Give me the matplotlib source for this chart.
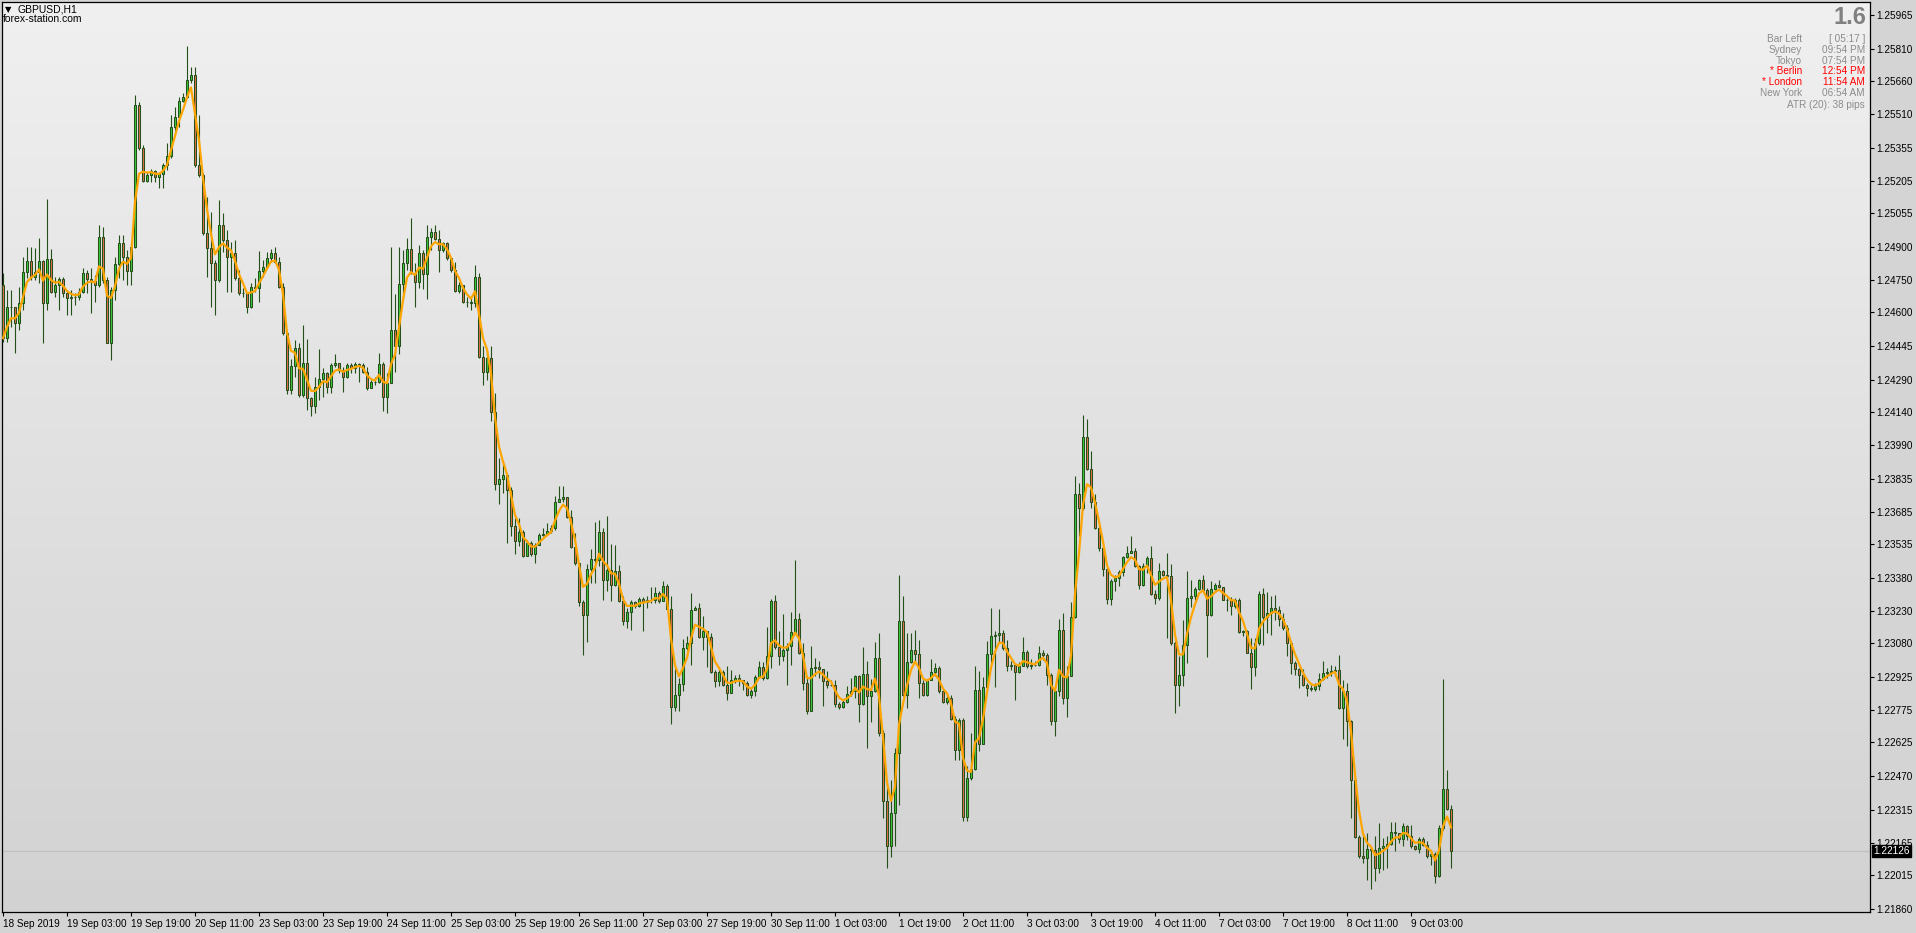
import numpy as np
import matplotlib.pyplot as plt
from matplotlib.colors import LinearSegmentedColormap

plt.rcParams['font.family'] = ['Liberation Sans', 'DejaVu Sans']

first_open = 1.24726

closes = [
    1.24481, 1.24623, 1.24623, 1.24553, 1.24644, 1.24784, 1.24834, 1.24761, 1.24787, 1.24834,
    1.24644, 1.24846, 1.24693, 1.24724, 1.24752, 1.24687, 1.24664, 1.24672, 1.24672, 1.24693,
    1.24779, 1.24752, 1.24744, 1.24726, 1.24944, 1.24748, 1.24461, 1.24703, 1.24820, 1.24917,
    1.24856, 1.24791, 1.24901, 1.25552, 1.25353, 1.25204, 1.25230, 1.25250, 1.25223, 1.25235,
    1.25276, 1.25318, 1.25452, 1.25495, 1.25572, 1.25590, 1.25666, 1.25689, 1.25276, 1.25230,
    1.24963, 1.24894, 1.24825, 1.24748, 1.25001, 1.24932, 1.24856, 1.24871, 1.24756, 1.24687,
    1.24687, 1.24626, 1.24715, 1.24710, 1.24791, 1.24810, 1.24848, 1.24874, 1.24833, 1.24718,
    1.24504, 1.24241, 1.24354, 1.24435, 1.24221, 1.24366, 1.24206, 1.24170, 1.24259, 1.24293,
    1.24320, 1.24259, 1.24357, 1.24366, 1.24336, 1.24305, 1.24356, 1.24343, 1.24362, 1.24359,
    1.24328, 1.24252, 1.24279, 1.24282, 1.24362, 1.24213, 1.24277, 1.24520, 1.24443, 1.24729,
    1.24825, 1.24890, 1.24782, 1.24737, 1.24871, 1.24776, 1.24945, 1.24971, 1.24935, 1.24886,
    1.24917, 1.24848, 1.24792, 1.24700, 1.24726, 1.24646, 1.24649, 1.24642, 1.24764, 1.24394,
    1.24328, 1.24389, 1.24141, 1.23812, 1.23834, 1.23852, 1.23785, 1.23617, 1.23548, 1.23592,
    1.23482, 1.23540, 1.23491, 1.23532, 1.23578, 1.23581, 1.23597, 1.23609, 1.23731, 1.23742,
    1.23750, 1.23658, 1.23522, 1.23448, 1.23269, 1.23211, 1.23423, 1.23467, 1.23464, 1.23591,
    1.23369, 1.23418, 1.23346, 1.23410, 1.23273, 1.23181, 1.23224, 1.23270, 1.23250, 1.23283,
    1.23268, 1.23277, 1.23277, 1.23311, 1.23276, 1.23345, 1.23237, 1.22786, 1.22841, 1.22893,
    1.23058, 1.23081, 1.23234, 1.23242, 1.23109, 1.23135, 1.23109, 1.22948, 1.22905, 1.22948,
    1.22887, 1.22852, 1.22910, 1.22921, 1.22910, 1.22898, 1.22841, 1.22863, 1.22925, 1.22971,
    1.22921, 1.23023, 1.23276, 1.23063, 1.23023, 1.23051, 1.23069, 1.23132, 1.23193, 1.23035,
    1.22898, 1.22768, 1.22967, 1.22970, 1.22964, 1.22905, 1.22890, 1.22890, 1.22801, 1.22788,
    1.22811, 1.22847, 1.22863, 1.22931, 1.22801, 1.22939, 1.22837, 1.22863, 1.23013, 1.22668,
    1.22354, 1.22150, 1.22300, 1.22576, 1.23184, 1.22844, 1.22994, 1.23047, 1.23032, 1.22898, 1.22844,
    1.22913, 1.22946, 1.22966, 1.22859, 1.22810, 1.22829, 1.22732, 1.22592, 1.22729, 1.22281,
    1.22461, 1.22504, 1.22867, 1.22619, 1.22879, 1.23032, 1.23115, 1.23119, 1.23127, 1.23058,
    1.22974, 1.22979, 1.22946, 1.22977, 1.23040, 1.22974, 1.22979, 1.22979, 1.23035, 1.23028,
    1.22936, 1.22722, 1.22859, 1.23142, 1.22829, 1.22931, 1.23200, 1.23765, 1.23701, 1.24027,
    1.23880, 1.23728, 1.23609, 1.23517, 1.23421, 1.23283, 1.23367, 1.23380, 1.23407, 1.23476,
    1.23494, 1.23502, 1.23433, 1.23349, 1.23433, 1.23471, 1.23308, 1.23288, 1.23410, 1.23395,
    1.23390, 1.23081, 1.22890, 1.22936, 1.23070, 1.23288, 1.23295, 1.23329, 1.23372,
    1.23326, 1.23211, 1.23329, 1.23346, 1.23338, 1.23280, 1.23277, 1.23253, 1.23280, 1.23130,
    1.23135, 1.23035, 1.22971, 1.23081, 1.23306, 1.23200, 1.23219, 1.23242, 1.23234, 1.23193,
    1.23150, 1.23081, 1.22989, 1.22963, 1.22933, 1.22890, 1.22875, 1.22871, 1.22882, 1.22916, 1.22943,
    1.22946, 1.22954, 1.22959, 1.22783, 1.22859, 1.22722, 1.22454, 1.22191, 1.22102, 1.22094,
    1.22135, 1.22132, 1.22048, 1.22140, 1.22148, 1.22159, 1.22214, 1.22209, 1.22183, 1.22243,
    1.22194, 1.22148, 1.22135, 1.22181, 1.22155, 1.22102, 1.22114, 1.22010, 1.22232, 1.22411,
    1.22319, 1.22126,
]

highs = [
    1.24779, 1.24703, 1.24703, 1.24623, 1.24718, 1.24856, 1.24898, 1.24901, 1.24894, 1.24940,
    1.24840, 1.25119, 1.24892, 1.24764, 1.24764, 1.24764, 1.24703, 1.24703, 1.24687, 1.24710,
    1.24802, 1.24794, 1.24802, 1.24771, 1.24999, 1.24993, 1.24764, 1.24718, 1.24856, 1.24955,
    1.24955, 1.24886, 1.24917, 1.25598, 1.25567, 1.25368, 1.25246, 1.25256, 1.25253, 1.25246,
    1.25284, 1.25376, 1.25506, 1.25544, 1.25590, 1.25605, 1.25823, 1.25728, 1.25728, 1.25506,
    1.25238, 1.25131, 1.25062, 1.24840, 1.25116, 1.25054, 1.24978, 1.24924, 1.24932, 1.24794,
    1.24710, 1.24695, 1.24733, 1.24756, 1.24882, 1.24840, 1.24879, 1.24889, 1.24901, 1.24856,
    1.24733, 1.24510, 1.24385, 1.24473, 1.24458, 1.24542, 1.24476, 1.24213, 1.24305, 1.24432,
    1.24343, 1.24328, 1.24366, 1.24409, 1.24369, 1.24351, 1.24366, 1.24366, 1.24374, 1.24366,
    1.24366, 1.24351, 1.24290, 1.24305, 1.24412, 1.24371, 1.24320, 1.24899, 1.24685, 1.24902,
    1.24886, 1.24940, 1.25032, 1.24825, 1.24909, 1.24886, 1.25001, 1.24986, 1.25001, 1.24978,
    1.24925, 1.24925, 1.24856, 1.24833, 1.24737, 1.24726, 1.24672, 1.24665, 1.24818, 1.24779,
    1.24443, 1.24420, 1.24443, 1.24229, 1.23930, 1.23907, 1.23861, 1.23800, 1.23655, 1.23655,
    1.23601, 1.23555, 1.23548, 1.23540, 1.23586, 1.23609, 1.23632, 1.23624, 1.23757, 1.23803,
    1.23803, 1.23739, 1.23693, 1.23586, 1.23448, 1.23280, 1.23446, 1.23513, 1.23635, 1.23647,
    1.23609, 1.23666, 1.23537, 1.23533, 1.23441, 1.23299, 1.23242, 1.23280, 1.23273, 1.23293,
    1.23291, 1.23299, 1.23337, 1.23337, 1.23319, 1.23364, 1.23352, 1.23296, 1.22967, 1.22921,
    1.23100, 1.23112, 1.23311, 1.23250, 1.23265, 1.23207, 1.23127, 1.23127, 1.22959, 1.22967,
    1.22959, 1.22974, 1.22959, 1.22936, 1.22941, 1.22913, 1.22905, 1.22875, 1.22936, 1.22997,
    1.22994, 1.23153, 1.23285, 1.23303, 1.23135, 1.23216, 1.23081, 1.23225, 1.23464, 1.23219,
    1.23081, 1.22928, 1.23066, 1.23013, 1.23000, 1.22941, 1.22951, 1.22913, 1.22913, 1.22809,
    1.22824, 1.22882, 1.22921, 1.22936, 1.22933, 1.23062, 1.23000, 1.22916, 1.23084, 1.23127,
    1.22683, 1.22454, 1.22454, 1.22600, 1.23395, 1.23295, 1.23127, 1.23127, 1.23142, 1.23096, 1.22913,
    1.22916, 1.23008, 1.22989, 1.22974, 1.22867, 1.22849, 1.22844, 1.22745, 1.22737, 1.22737,
    1.22515, 1.22668, 1.22977, 1.22951, 1.22925, 1.23089, 1.23242, 1.23135, 1.23237, 1.23142,
    1.23096, 1.22997, 1.22989, 1.22992, 1.23109, 1.23051, 1.23008, 1.22997, 1.23066, 1.23047,
    1.23035, 1.22943, 1.22867, 1.23191, 1.23219, 1.22974, 1.23269, 1.23846, 1.23816, 1.24129,
    1.24109, 1.23961, 1.23765, 1.23617, 1.23525, 1.23425, 1.23376, 1.23395, 1.23415, 1.23479,
    1.23528, 1.23571, 1.23517, 1.23438, 1.23448, 1.23483, 1.23525, 1.23326, 1.23451, 1.23418,
    1.23494, 1.23444, 1.23089, 1.23020, 1.23188, 1.23413, 1.23372, 1.23338, 1.23376,
    1.23395, 1.23334, 1.23364, 1.23357, 1.23369, 1.23338, 1.23288, 1.23292, 1.23288, 1.23286,
    1.23142, 1.23142, 1.23104, 1.23104, 1.23318, 1.23334, 1.23315, 1.23295, 1.23303, 1.23250,
    1.23219, 1.23165, 1.23089, 1.22997, 1.22966, 1.22963, 1.22898, 1.22890, 1.22898, 1.22943, 1.22997,
    1.22966, 1.22982, 1.22974, 1.23027, 1.22913, 1.22898, 1.22729, 1.22461, 1.22201, 1.22209,
    1.22209, 1.22140, 1.22194, 1.22255, 1.22186, 1.22194, 1.22260, 1.22260, 1.22209, 1.22255,
    1.22247, 1.22247, 1.22155, 1.22191, 1.22191, 1.22171, 1.22125, 1.22120, 1.22247, 1.22916,
    1.22500, 1.22339,
]

lows = [
    1.24465, 1.24465, 1.24534, 1.24412, 1.24519, 1.24611, 1.24756, 1.24748, 1.24748, 1.24733,
    1.24461, 1.24611, 1.24687, 1.24672, 1.24611, 1.24672, 1.24588, 1.24588, 1.24634, 1.24657,
    1.24687, 1.24687, 1.24595, 1.24649, 1.24718, 1.24733, 1.24458, 1.24381, 1.24657, 1.24756,
    1.24748, 1.24726, 1.24726, 1.24894, 1.25345, 1.25200, 1.25200, 1.25200, 1.25200, 1.25169,
    1.25169, 1.25253, 1.25307, 1.25422, 1.25452, 1.25567, 1.25582, 1.25651, 1.25269, 1.25223,
    1.24955, 1.24764, 1.24626, 1.24588, 1.24741, 1.24879, 1.24695, 1.24695, 1.24748, 1.24680,
    1.24672, 1.24595, 1.24618, 1.24695, 1.24649, 1.24764, 1.24802, 1.24833, 1.24825, 1.24710,
    1.24496, 1.24226, 1.24225, 1.24305, 1.24213, 1.24213, 1.24152, 1.24122, 1.24137, 1.24198,
    1.24213, 1.24229, 1.24229, 1.24351, 1.24320, 1.24236, 1.24298, 1.24320, 1.24320, 1.24278,
    1.24320, 1.24244, 1.24252, 1.24267, 1.24275, 1.24149, 1.24137, 1.24275, 1.24328, 1.24409,
    1.24657, 1.24795, 1.24776, 1.24626, 1.24711, 1.24706, 1.24662, 1.24886, 1.24932, 1.24787,
    1.24879, 1.24841, 1.24787, 1.24695, 1.24688, 1.24642, 1.24626, 1.24611, 1.24626, 1.24389,
    1.24264, 1.24290, 1.24099, 1.23785, 1.23721, 1.23770, 1.23540, 1.23571, 1.23491, 1.23525,
    1.23476, 1.23479, 1.23482, 1.23448, 1.23540, 1.23571, 1.23578, 1.23586, 1.23601, 1.23731,
    1.23731, 1.23655, 1.23517, 1.23441, 1.23249, 1.23025, 1.23084, 1.23357, 1.23357, 1.23433,
    1.23277, 1.23319, 1.23273, 1.23342, 1.23268, 1.23166, 1.23150, 1.23143, 1.23242, 1.23247,
    1.23135, 1.23242, 1.23265, 1.23265, 1.23265, 1.23273, 1.23237, 1.22710, 1.22768, 1.22768,
    1.22860, 1.23051, 1.22979, 1.23231, 1.23104, 1.23051, 1.22970, 1.22944, 1.22879, 1.22882,
    1.22882, 1.22821, 1.22855, 1.22898, 1.22886, 1.22867, 1.22837, 1.22829, 1.22840, 1.22921,
    1.22913, 1.22916, 1.22967, 1.23054, 1.22982, 1.22997, 1.22890, 1.22982, 1.23127, 1.23031,
    1.22864, 1.22756, 1.22768, 1.22928, 1.22921, 1.22791, 1.22875, 1.22882, 1.22788, 1.22778,
    1.22783, 1.22806, 1.22837, 1.22829, 1.22717, 1.22798, 1.22599, 1.22717, 1.22855, 1.22653,
    1.22278, 1.22050, 1.22100, 1.22150, 1.22339, 1.22836, 1.22783, 1.22989, 1.22989, 1.22829, 1.22839,
    1.22839, 1.22910, 1.22928, 1.22852, 1.22806, 1.22803, 1.22729, 1.22546, 1.22546, 1.22265,
    1.22262, 1.22454, 1.22500, 1.22584, 1.22650, 1.22875, 1.22989, 1.22879, 1.23081, 1.23051,
    1.22951, 1.22959, 1.22821, 1.22943, 1.22974, 1.22966, 1.22962, 1.22974, 1.22974, 1.23005,
    1.22890, 1.22706, 1.22653, 1.22836, 1.22803, 1.22742, 1.22943, 1.23196, 1.23574, 1.23693,
    1.23877, 1.23701, 1.23604, 1.23502, 1.23387, 1.23262, 1.23257, 1.23318, 1.23341, 1.23387,
    1.23471, 1.23494, 1.23430, 1.23329, 1.23341, 1.23402, 1.23303, 1.23262, 1.23280, 1.23387,
    1.23104, 1.23073, 1.22760, 1.22790, 1.22882, 1.22989, 1.23246, 1.23280, 1.23326,
    1.23318, 1.23017, 1.23204, 1.23326, 1.23334, 1.23277, 1.23226, 1.23211, 1.23242, 1.23127,
    1.23112, 1.23035, 1.22870, 1.22928, 1.23073, 1.23070, 1.23127, 1.23116, 1.23188, 1.23158,
    1.23142, 1.23020, 1.22940, 1.22936, 1.22875, 1.22882, 1.22836, 1.22859, 1.22859, 1.22867, 1.22913,
    1.22920, 1.22928, 1.22928, 1.22778, 1.22640, 1.22607, 1.22278, 1.22186, 1.22094, 1.22071,
    1.21995, 1.21952, 1.21987, 1.22025, 1.22041, 1.22048, 1.22155, 1.22125, 1.22163, 1.22148,
    1.22178, 1.22140, 1.22132, 1.22117, 1.22148, 1.22094, 1.22064, 1.21980, 1.22007, 1.22224,
    1.22313, 1.22048,
]

time_labels = ['18 Sep 2019', '19 Sep 03:00', '19 Sep 19:00', '20 Sep 11:00', '23 Sep 03:00',
               '23 Sep 19:00', '24 Sep 11:00', '25 Sep 03:00', '25 Sep 19:00', '26 Sep 11:00',
               '27 Sep 03:00', '27 Sep 19:00', '30 Sep 11:00', '1 Oct 03:00', '1 Oct 19:00',
               '2 Oct 11:00', '3 Oct 03:00', '3 Oct 19:00', '4 Oct 11:00', '7 Oct 03:00',
               '7 Oct 19:00', '8 Oct 11:00', '9 Oct 03:00']
bars_per_label = 16

price_ticks = [1.25965, 1.25810, 1.25660, 1.25510, 1.25355, 1.25205, 1.25055, 1.24900,
               1.24750, 1.24600, 1.24445, 1.24290, 1.24140, 1.23990, 1.23835, 1.23685,
               1.23535, 1.23380, 1.23230, 1.23080, 1.22925, 1.22775, 1.22625, 1.22470,
               1.22315, 1.22165, 1.22015, 1.21860]

info_names = ['Bar Left', 'Sydney', 'Tokyo', '* Berlin', '* London', 'New York']
info_values = ['[ 05:17 ]', '09:54 PM', '07:54 PM', '12:54 PM', '11:54 AM', '06:54 AM']
info_open = [False, False, False, True, True, False]

wick_col = '#24501a'
bull_col = '#3cc83c'
bear_col = '#e0704a'

W, H = 1916, 933
fig = plt.figure(figsize=(W / 100, H / 100), dpi=100, facecolor='#d4d4d4')
ax = fig.add_axes([2 / W, (H - 912) / H, 1868 / W, 910 / H])

# background gradient
cmap = LinearSegmentedColormap.from_list('bg', ['#f0f0f0', '#d2d2d2'])
ax.imshow(np.linspace(0, 1, 256).reshape(-1, 1), cmap=cmap, aspect='auto',
          extent=[0, 1, 0, 1], transform=ax.transAxes, zorder=0)

c = np.array(closes)
o = np.r_[first_open, c[:-1]]
hi = np.maximum(np.array(highs), np.maximum(o, c))
lo = np.minimum(np.array(lows), np.minimum(o, c))
x = np.arange(len(c))
up = c >= o

ax.vlines(x, lo, hi, color=wick_col, lw=0.8, zorder=2)
ax.bar(x[up], (c - o)[up], bottom=o[up], width=0.5, color=bull_col,
       edgecolor=wick_col, linewidth=0.75, zorder=3)
ax.bar(x[~up], (o - c)[~up], bottom=c[~up], width=0.5, color=bear_col,
       edgecolor=wick_col, linewidth=0.75, zorder=3)

# smoothed close (two passes of an ema)
a = 0.6
e1 = e2 = c[0]
smooth = []
for v in c:
    e1 = e1 + a * (v - e1)
    e2 = e2 + a * (e1 - e2)
    smooth.append(e2)
ax.plot(x, smooth, color='#ffa500', lw=1.6, zorder=4)

last = closes[-1]
ax.axhline(last, color='#c0c0c0', lw=0.8, zorder=1)
ax.annotate('%.5f' % last, xy=(1, last), xycoords=('axes fraction', 'data'),
            xytext=(2.5, 0), textcoords='offset points', ha='left', va='center',
            fontsize=7.2, color='white', annotation_clip=False, zorder=10,
            bbox=dict(boxstyle='square,pad=0.12', fc='black', ec='black'))

ax.set_xlim(-0.25, 466.75)
ax.set_ylim(1.21846, 1.26025)

ax.yaxis.tick_right()
ax.set_yticks(price_ticks)
ax.set_yticklabels(['%.5f' % t for t in price_ticks])
ax.set_xticks(np.arange(len(time_labels)) * bars_per_label)
ax.set_xticklabels(time_labels)
plt.setp(ax.get_xticklabels(), ha='left')
ax.tick_params(axis='y', length=3, width=0.8, pad=1.5, labelsize=7.2, colors='black')
ax.tick_params(axis='x', length=3, width=0.8, pad=2, labelsize=7.2, colors='black')
for s in ax.spines.values():
    s.set_color('black')
    s.set_linewidth(0.9)


def px(xp, yp):
    return xp / W, 1 - yp / H


fig.text(*px(5, 10), '\u25bc', fontsize=6, va='center', ha='left', color='black',
         family='DejaVu Sans')
fig.text(*px(18, 10), 'GBPUSD,H1', fontsize=7.5, va='center', ha='left')
fig.text(*px(3, 19.5), 'forex-station.com', fontsize=7.5, va='center', ha='left')

fig.text(*px(1866, 17), '1.6', fontsize=17, fontweight='bold', color='#808080',
         va='center', ha='right')
for i in range(len(info_names)):
    col = '#ff0000' if info_open[i] else '#8c8c8c'
    yy = 39 + i * 10.8
    fig.text(*px(1802, yy), info_names[i], fontsize=7.2, color=col, va='center', ha='right')
    fig.text(*px(1865, yy), info_values[i], fontsize=7.2, color=col, va='center', ha='right')
fig.text(*px(1865, 104.5), 'ATR (20): 38 pips', fontsize=7.2, color='#8c8c8c',
         va='center', ha='right')

fig.savefig('out.png', dpi=100, facecolor=fig.get_facecolor())
